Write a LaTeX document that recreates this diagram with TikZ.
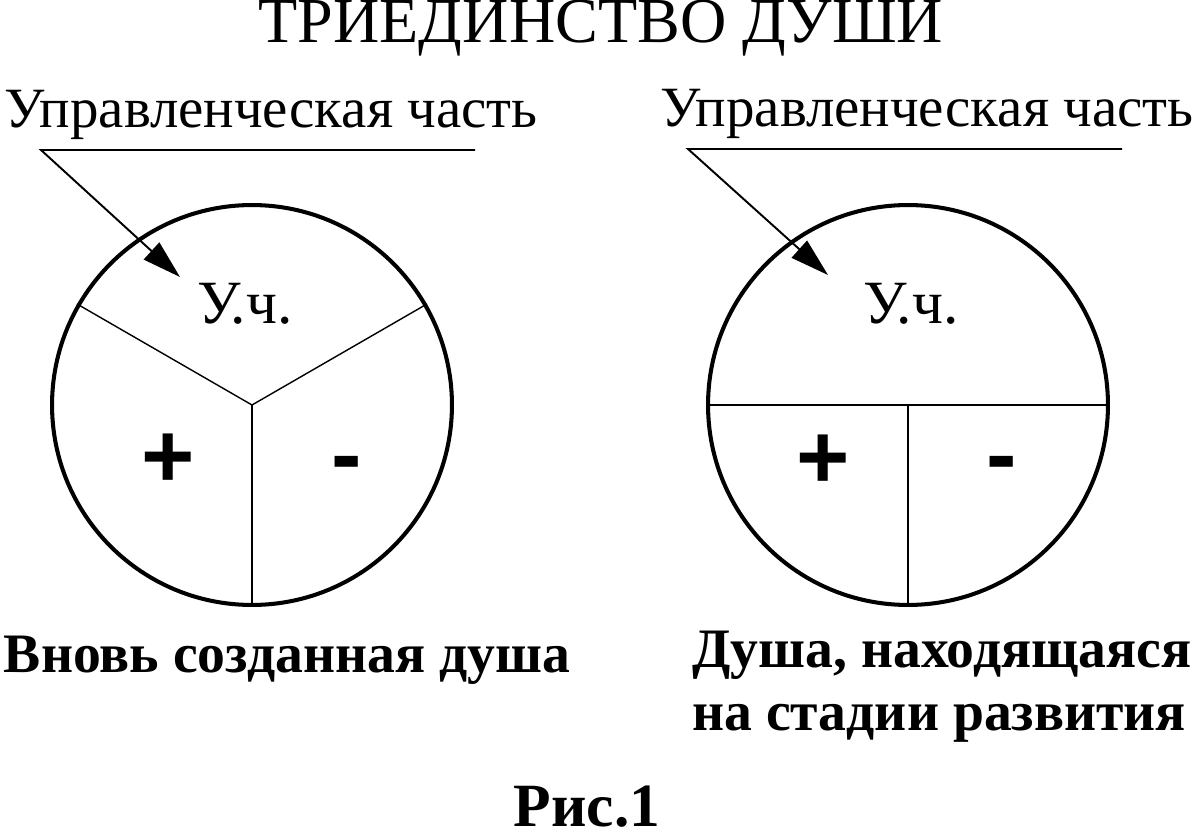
\documentclass[tikz,border=0pt]{standalone}
\usepackage{fontspec}
\setmainfont{Liberation Serif}
\newfontfamily\signfont{Liberation Sans}
\usetikzlibrary{arrows.meta}

\begin{document}
\begin{tikzpicture}[x=0.02cm, y=-0.02cm,
    soul/.style={circle, draw, line width=2.3pt, minimum size=8cm, inner sep=0pt},
    part/.style={line width=0.8pt},
    leader/.style={line width=1.1pt, -{Triangle[length=22pt, width=13pt]}},
    lbl/.style={anchor=base, inner sep=0pt, font=\fontsize{32.4}{38}\selectfont},
    uch/.style={anchor=base, inner sep=0pt, font=\fontsize{35}{40}\selectfont},
    sign/.style={inner sep=0pt, font=\signfont\bfseries\fontsize{52}{60}\selectfont},
    capt/.style={anchor=base, inner sep=0pt, font=\bfseries\fontsize{31.7}{35.5}\selectfont}]
    \useasboundingbox (0,0) rectangle (1200,831);

    \node[anchor=base, inner sep=0pt, font=\fontsize{36.5}{42}\selectfont] (title) at (601,43) {ТРИЕДИНСТВО ДУШИ};

    % Left soul: three equal parts
    \node[soul] (soulA) at (252,405) {};
    \foreach \a in {30,150,270}
        \draw[part] (soulA.center) -- (soulA.\a);
    \node[uch] (uchA) at (245,323) {У.ч.};
    \node[sign] (plusA) at (168,461) {+};
    \node[sign] (minusA) at (347,471) {-};

    % Right soul: half on top, two quarters below
    \node[soul] (soulB) at (908,405) {};
    \draw[part] (soulB.west) -- (soulB.east);
    \draw[part] (soulB.center) -- (soulB.south);
    \node[uch] (uchB) at (911,323) {У.ч.};
    \node[sign] (plusB) at (823,462) {+};
    \node[sign] (minusB) at (1002,471) {-};

    % Labels with leaders
    \node[lbl] (ctrlA) at (271,128) {Управленческая часть};
    \coordinate (kneeA) at (41,150);
    \coordinate (endA) at (475,150);
    \coordinate (tipA) at (180,277);
    \draw[leader] (endA) -- (kneeA) -- (tipA);

    \node[lbl] (ctrlB) at (927,127) {Управленческая часть};
    \coordinate (kneeB) at (688,149);
    \coordinate (endB) at (1122,149);
    \coordinate (tipB) at (828,275);
    \draw[leader] (endB) -- (kneeB) -- (tipB);

    \node[capt] (capA) at (287,672) {Вновь созданная душа};
    \node[capt, anchor=base west, align=left] (capB) at (692,730) {Душа, находящаяся\\на стадии развития};

    \node[capt, font=\bfseries\fontsize{35}{40}\selectfont] (fig) at (587,826) {Рис.1};
\end{tikzpicture}
\end{document}
